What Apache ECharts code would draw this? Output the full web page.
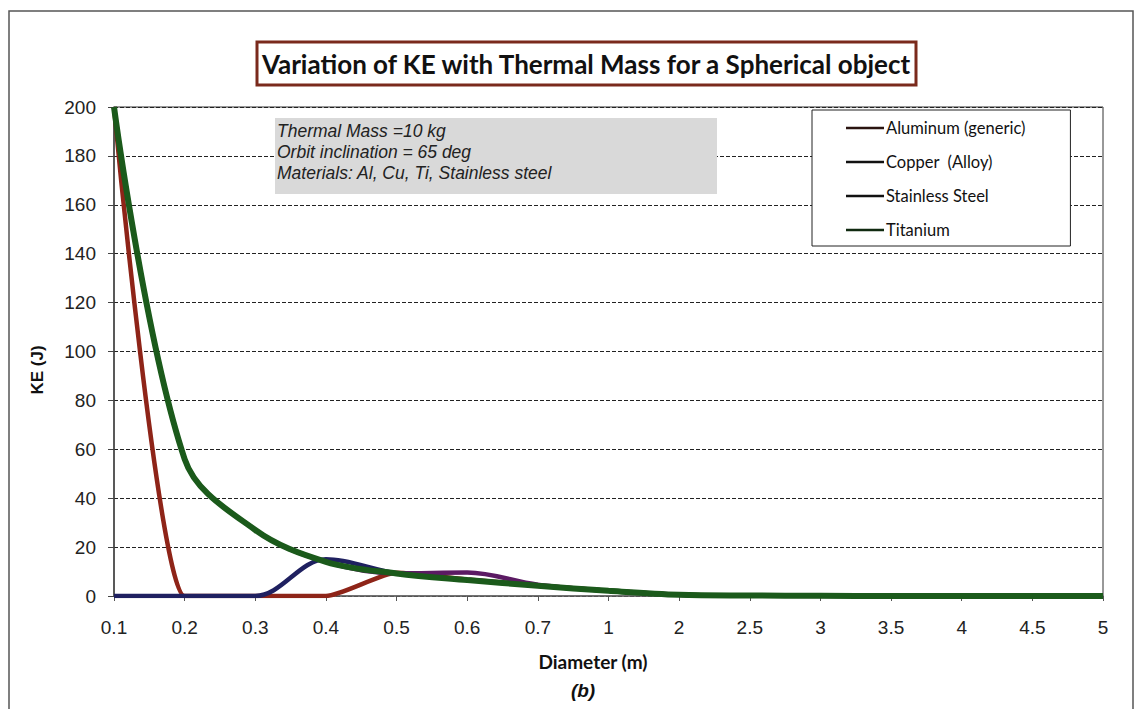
<!DOCTYPE html>
<html>
<head>
<meta charset="utf-8">
<script src="https://cdn.jsdelivr.net/npm/echarts@6/dist/echarts.min.js"></script>
<style>
  html, body { margin: 0; padding: 0; background: #ffffff; }
  #chart { width: 1136px; height: 709px; }
</style>
</head>
<body>
<div id="chart"></div>
<script>
// ---- data ----
var categories = ['0.1', '0.2', '0.3', '0.4', '0.5', '0.6', '0.7', '1', '2', '2.5', '3', '3.5', '4', '4.5', '5'];
var aluminum  = [200, 0, 0, 0, 9.5, 6.8, 4.3, 2.2, 0.5, 0.2, 0, 0, 0, 0, 0];
var copper    = [0, 0, 0, 15, 9.3, 6.6, 4.2, 2.1, 0.5, 0.2, 0, 0, 0, 0, 0];
var stainless = [200, 56, 27, 14, 9.3, 9.6, 4.6, 2.1, 0.5, 0.2, 0.1, 0, 0, 0, 0];
var titanium  = [200, 56, 27, 14, 9.2, 6.5, 4.2, 2.1, 0.5, 0.2, 0.1, 0, 0, 0, 0];
var seriesNames = ['Aluminum (generic)', 'Copper  (Alloy)', 'Stainless Steel', 'Titanium'];
var yTicks = { min: 0, max: 200, interval: 20 };
var titleText = 'Variation of KE with Thermal Mass for a Spherical object';
var noteLines = ['Thermal Mass =10 kg', 'Orbit inclination = 65 deg', 'Materials: Al, Cu, Ti, Stainless steel'];

var colors = ['#8e2418', '#1f2060', '#5b1a63', '#1b5a1b'];
var legendColors = ['#2a1410', '#111111', '#111111', '#102a10'];
var widths = [4.5, 4.5, 4.5, 6];
var smoothness = [0.2, 0.35, 0.35, 0.35];

var chart = echarts.init(document.getElementById('chart'), null, { renderer: 'svg' });

var dataArrays = [aluminum, copper, stainless, titanium];
var series = dataArrays.map(function (arr, i) {
  return {
    name: seriesNames[i],
    type: 'line',
    data: arr,
    smooth: smoothness[i],
    symbol: 'none',
    lineStyle: { color: colors[i], width: widths[i] },
    itemStyle: { color: colors[i] },
    z: 2 + i
  };
});

var option = {
  animation: false,
  backgroundColor: '#ffffff',
  grid: { left: 114, right: 33, top: 107, bottom: 113, show: true, borderColor: '#333', borderWidth: 1, backgroundColor: 'transparent' },
  legend: {
    orient: 'vertical',
    left: 812, top: 110,
    padding: [9, 45, 7, 34],
    itemGap: 16,
    itemWidth: 38, itemHeight: 2.5,
    icon: 'rect',
    borderColor: '#222', borderWidth: 1,
    backgroundColor: '#fff',
    textStyle: { fontFamily: 'Lato', fontSize: 16.5, color: '#111', lineHeight: 18, padding: [0, 0, 0, -3] },
    data: seriesNames.map(function (n, i) { return { name: n, itemStyle: { color: legendColors[i] } }; })
  },
  xAxis: {
    type: 'category',
    data: categories,
    boundaryGap: false,
    axisLine: { lineStyle: { color: '#666', width: 1.5 } },
    axisTick: { show: true, inside: false, length: 5, lineStyle: { color: '#555' } },
    axisLabel: { fontFamily: 'Liberation Sans', fontSize: 19, color: '#222', margin: 22 },
    splitLine: { show: false }
  },
  yAxis: {
    type: 'value',
    min: yTicks.min, max: yTicks.max, interval: yTicks.interval,
    axisLine: { show: true, lineStyle: { color: '#444', width: 1.5 } },
    axisTick: { show: true, inside: false, length: 6, lineStyle: { color: '#444' } },
    axisLabel: { fontFamily: 'Liberation Sans', fontSize: 19, color: '#222', margin: 18 },
    splitLine: { show: true, lineStyle: { color: '#222', type: [4, 2], width: 1 } }
  },
  series: series,
  graphic: [
    { type: 'rect', silent: true, z: -1, shape: { x: 9, y: 11, width: 1124, height: 720 }, style: { fill: 'none', stroke: '#555', lineWidth: 1.5 } },
    { type: 'rect', z: 10, shape: { x: 257, y: 42, width: 659, height: 43 }, style: { fill: '#fff', stroke: '#7a2a1c', lineWidth: 3 } },
    { type: 'text', z: 11, x: 586, y: 64, style: { text: titleText, fontFamily: 'Lato', fontWeight: 'bold', fontSize: 26, fill: '#111', align: 'center', verticalAlign: 'middle' } },
    { type: 'rect', z: 10, shape: { x: 275, y: 118, width: 442, height: 76 }, style: { fill: '#d9d9d9' } },
    { type: 'text', z: 11, x: 277, y: 120, style: { text: noteLines.join('\n'), fontFamily: 'Liberation Sans', fontStyle: 'italic', fontSize: 17.5, lineHeight: 21, fill: '#222' } },
    { type: 'text', z: 11, x: 37, y: 370, rotation: Math.PI / 2, style: { text: 'KE (J)', fontFamily: 'Liberation Sans', fontWeight: 'bold', fontSize: 17, fill: '#111', align: 'center', verticalAlign: 'middle' } },
    { type: 'text', z: 11, x: 593, y: 661, style: { text: 'Diameter (m)', fontFamily: 'Lato', fontWeight: 'bold', fontSize: 19, fill: '#111', align: 'center', verticalAlign: 'middle' } },
    { type: 'text', z: 11, x: 583, y: 690, style: { text: '(b)', fontFamily: 'Liberation Sans', fontWeight: 'bold', fontStyle: 'italic', fontSize: 19, fill: '#111', align: 'center', verticalAlign: 'middle' } }
  ]
};
chart.setOption(option);
</script>
</body>
</html>
